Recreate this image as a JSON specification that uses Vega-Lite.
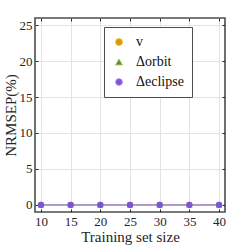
{
  "$schema": "https://vega.github.io/schema/vega-lite/v6.json",
  "width": 190,
  "height": 194,
  "autosize": {"type": "none"},
  "padding": {"left": 35, "top": 18, "right": 24, "bottom": 37},
  "background": "white",
  "config": {
    "view": {"stroke": "#4d4d4d", "strokeWidth": 1.6},
    "font": "serif",
    "legend": {
      "title": null,
      "orient": "none",
      "legendX": 69,
      "legendY": 9,
      "fillColor": "white",
      "strokeColor": "#4d4d4d",
      "padding": 8,
      "rowPadding": 6,
      "labelFont": "serif",
      "labelFontSize": 14,
      "labelColor": "#111111",
      "labelOffset": 10,
      "symbolSize": 45,
      "symbolOpacity": 1,
      "symbolStrokeWidth": 1
    },
    "axis": {
      "labelFont": "serif",
      "titleFont": "serif",
      "labelFontSize": 13,
      "titleFontSize": 15,
      "labelColor": "#262626",
      "titleColor": "#262626",
      "titleFontWeight": "normal",
      "domain": false,
      "tickColor": "#262626",
      "tickSize": -3,
      "gridColor": "#e3e3e3",
      "gridWidth": 1
    }
  },
  "data": {
    "values": [
      {"n": 10, "err": 0, "s": "v"}, {"n": 15, "err": 0, "s": "v"}, {"n": 20, "err": 0, "s": "v"}, {"n": 25, "err": 0, "s": "v"}, {"n": 30, "err": 0, "s": "v"}, {"n": 35, "err": 0, "s": "v"}, {"n": 40, "err": 0, "s": "v"},
      {"n": 10, "err": 0, "s": "Δorbit"}, {"n": 15, "err": 0, "s": "Δorbit"}, {"n": 20, "err": 0, "s": "Δorbit"}, {"n": 25, "err": 0, "s": "Δorbit"}, {"n": 30, "err": 0, "s": "Δorbit"}, {"n": 35, "err": 0, "s": "Δorbit"}, {"n": 40, "err": 0, "s": "Δorbit"},
      {"n": 10, "err": 0, "s": "Δeclipse"}, {"n": 15, "err": 0, "s": "Δeclipse"}, {"n": 20, "err": 0, "s": "Δeclipse"}, {"n": 25, "err": 0, "s": "Δeclipse"}, {"n": 30, "err": 0, "s": "Δeclipse"}, {"n": 35, "err": 0, "s": "Δeclipse"}, {"n": 40, "err": 0, "s": "Δeclipse"}
    ]
  },
  "layer": [
    {
      "mark": {"type": "line", "strokeWidth": 1.8, "opacity": 0.75},
      "encoding": {
        "x": {"field": "n", "type": "quantitative", "scale": {"domain": [9, 41], "nice": false, "zero": false},
          "axis": {"orient": "bottom", "values": [10, 15, 20, 25, 30, 35, 40], "title": "Training set size", "labelPadding": 6, "titlePadding": 1}},
        "y": {"field": "err", "type": "quantitative", "scale": {"domain": [-1, 26], "nice": false, "zero": false},
          "axis": {"orient": "left", "values": [0, 5, 10, 15, 20, 25], "title": "NRMSEP(%)", "labelPadding": 6, "titlePadding": 1}},
        "stroke": {"field": "s", "type": "nominal",
          "scale": {"domain": ["v", "Δorbit", "Δeclipse"], "range": ["#f0b400", "#9cc26a", "#a98bf0"]}}
      }
    },
    {
      "mark": {"type": "point", "filled": true, "opacity": 1, "size": 40},
      "encoding": {
        "x": {"field": "n", "type": "quantitative", "scale": {"domain": [9, 41], "nice": false, "zero": false},
          "axis": {"orient": "top", "values": [10, 15, 20, 25, 30, 35, 40], "labels": false, "title": null, "grid": false}},
        "y": {"field": "err", "type": "quantitative", "scale": {"domain": [-1, 26], "nice": false, "zero": false},
          "axis": {"orient": "right", "values": [0, 5, 10, 15, 20, 25], "labels": false, "title": null, "grid": false}},
        "color": {"field": "s", "type": "nominal",
          "scale": {"domain": ["v", "Δorbit", "Δeclipse"], "range": ["#d09b10", "#5e8a28", "#7a55d8"]}},
        "shape": {"field": "s", "type": "nominal",
          "scale": {"domain": ["v", "Δorbit", "Δeclipse"], "range": ["circle", "triangle-up", "circle"]}}
      }
    }
  ],
  "resolve": {"axis": {"x": "independent", "y": "independent"}}
}
